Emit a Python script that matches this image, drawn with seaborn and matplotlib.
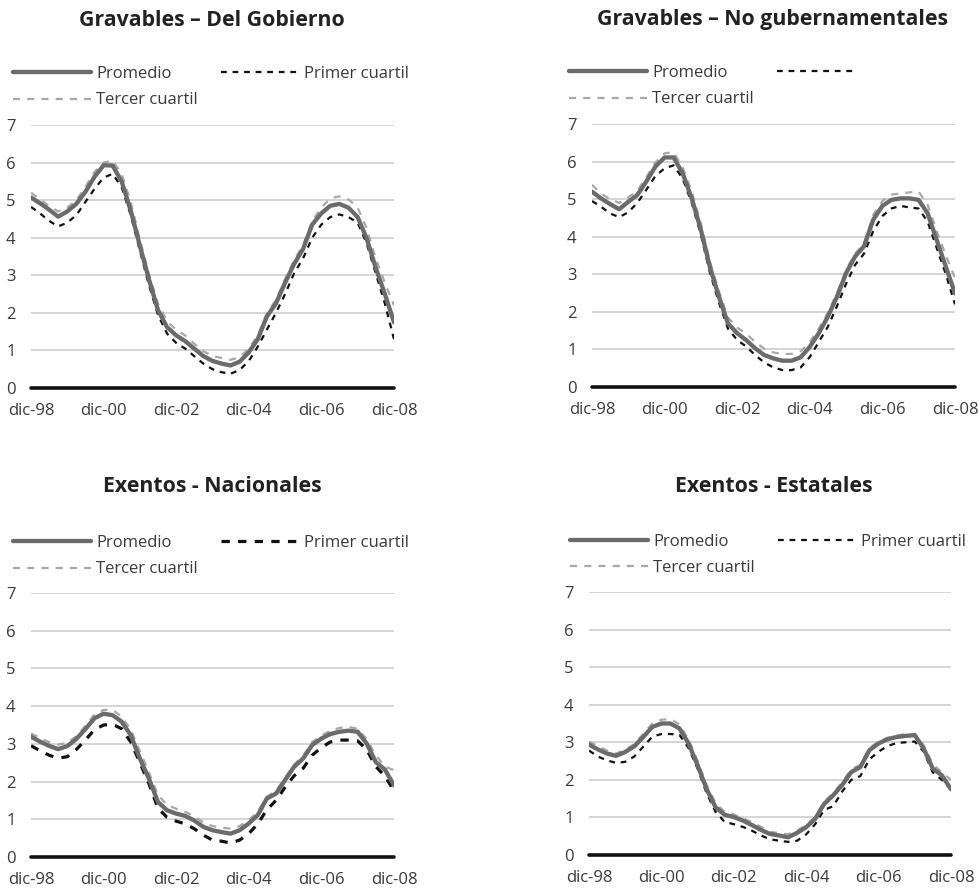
import numpy as np
import pandas as pd
import matplotlib
matplotlib.use("Agg")
import matplotlib.pyplot as plt
import seaborn as sns

sns.set_style("white")
plt.rcParams['font.family'] = ['Open Sans', 'DejaVu Sans']

# ---------------- data (quarterly, dic-98 .. dic-08) ----------------
dates = pd.date_range('1998-12-31', periods=41, freq='QE-DEC')
tick_dates = pd.to_datetime(['1998-12-31', '2000-12-31', '2002-12-31',
                             '2004-12-31', '2006-12-31', '2008-12-31'])
tick_labels = ['dic-98', 'dic-00', 'dic-02', 'dic-04', 'dic-06', 'dic-08']

titles = ['Gravables – Del Gobierno', 'Gravables – No gubernamentales',
          'Exentos - Nacionales', 'Exentos - Estatales']

gob_mean = [5.07, 4.92, 4.75, 4.56, 4.70, 4.90, 5.22, 5.62, 5.93, 5.92, 5.50,
            4.72, 3.78, 2.90, 2.08, 1.62, 1.40, 1.25, 1.05, 0.85, 0.72, 0.65,
            0.60, 0.70, 0.95, 1.30, 1.90, 2.25, 2.80, 3.30, 3.70, 4.35, 4.65,
            4.85, 4.90, 4.80, 4.55, 3.98, 3.20, 2.50, 1.75]
gob_q1 = [4.82, 4.65, 4.45, 4.30, 4.40, 4.60, 4.95, 5.30, 5.60, 5.70, 5.35,
          4.60, 3.65, 2.75, 1.95, 1.45, 1.20, 1.05, 0.85, 0.65, 0.50, 0.42,
          0.38, 0.48, 0.72, 1.10, 1.55, 2.00, 2.50, 3.05, 3.45, 4.00, 4.35,
          4.55, 4.62, 4.55, 4.40, 3.85, 3.05, 2.25, 1.30]
gob_q3 = [5.20, 5.02, 4.85, 4.70, 4.80, 5.00, 5.35, 5.75, 6.00, 6.05, 5.70,
          4.95, 3.95, 3.05, 2.25, 1.78, 1.55, 1.40, 1.18, 0.98, 0.85, 0.80,
          0.75, 0.82, 1.05, 1.40, 1.98, 2.35, 2.90, 3.40, 3.80, 4.45, 4.80,
          5.05, 5.10, 5.02, 4.80, 4.25, 3.45, 2.80, 2.20]

nog_mean = [5.20, 5.02, 4.87, 4.73, 4.93, 5.11, 5.47, 5.87, 6.11, 6.11, 5.69,
            5.02, 4.18, 3.20, 2.40, 1.69, 1.43, 1.25, 1.03, 0.85, 0.76, 0.70,
            0.70, 0.79, 1.07, 1.43, 1.87, 2.40, 3.03, 3.47, 3.75, 4.45, 4.82,
            4.98, 5.02, 5.02, 4.98, 4.62, 3.91, 3.20, 2.49]
nog_q1 = [4.95, 4.80, 4.62, 4.52, 4.65, 4.90, 5.25, 5.62, 5.82, 5.90, 5.55,
          4.90, 4.05, 3.05, 2.25, 1.55, 1.25, 1.08, 0.85, 0.65, 0.52, 0.45,
          0.45, 0.52, 0.80, 1.20, 1.60, 2.15, 2.75, 3.25, 3.55, 4.15, 4.55,
          4.75, 4.82, 4.78, 4.75, 4.40, 3.70, 3.00, 2.20]
nog_q3 = [5.38, 5.15, 5.00, 4.90, 5.05, 5.22, 5.58, 5.98, 6.22, 6.25, 5.85,
          5.20, 4.35, 3.35, 2.55, 1.85, 1.58, 1.42, 1.20, 1.02, 0.92, 0.88,
          0.88, 0.95, 1.20, 1.55, 1.98, 2.50, 3.12, 3.55, 3.80, 4.58, 4.95,
          5.12, 5.15, 5.18, 5.20, 4.85, 4.15, 3.50, 2.90]

nac_mean = [3.19, 3.06, 2.95, 2.86, 2.94, 3.13, 3.39, 3.68, 3.80, 3.76, 3.59,
            3.23, 2.61, 2.08, 1.46, 1.24, 1.15, 1.09, 0.97, 0.80, 0.71, 0.66,
            0.62, 0.71, 0.89, 1.11, 1.55, 1.68, 2.04, 2.39, 2.61, 2.97, 3.14,
            3.26, 3.32, 3.35, 3.32, 3.01, 2.52, 2.32, 1.90]
nac_q1 = [2.95, 2.82, 2.70, 2.62, 2.66, 2.85, 3.10, 3.38, 3.50, 3.52, 3.40,
          3.05, 2.50, 1.95, 1.30, 1.05, 0.95, 0.88, 0.75, 0.58, 0.45, 0.42,
          0.37, 0.45, 0.62, 0.88, 1.25, 1.50, 1.85, 2.15, 2.35, 2.70, 2.90,
          3.05, 3.10, 3.10, 3.08, 2.85, 2.40, 2.15, 1.75]
nac_q3 = [3.28, 3.15, 3.05, 2.98, 3.03, 3.20, 3.48, 3.78, 3.90, 3.90, 3.72,
          3.38, 2.80, 2.25, 1.65, 1.38, 1.28, 1.20, 1.08, 0.92, 0.82, 0.78,
          0.75, 0.82, 0.98, 1.20, 1.60, 1.75, 2.10, 2.45, 2.68, 3.05, 3.22,
          3.35, 3.42, 3.45, 3.40, 3.12, 2.70, 2.40, 2.30]

est_mean = [2.94, 2.81, 2.70, 2.64, 2.74, 2.89, 3.14, 3.41, 3.50, 3.50, 3.37,
            2.97, 2.39, 1.76, 1.27, 1.07, 1.01, 0.92, 0.80, 0.67, 0.56, 0.52,
            0.47, 0.59, 0.74, 0.96, 1.36, 1.59, 1.87, 2.21, 2.34, 2.79, 2.97,
            3.08, 3.14, 3.17, 3.19, 2.83, 2.30, 2.12, 1.75]
est_q1 = [2.78, 2.62, 2.52, 2.45, 2.48, 2.62, 2.88, 3.15, 3.22, 3.22, 3.20,
          2.85, 2.30, 1.65, 1.15, 0.88, 0.82, 0.75, 0.65, 0.52, 0.42, 0.38,
          0.35, 0.38, 0.55, 0.82, 1.20, 1.30, 1.70, 2.00, 2.10, 2.55, 2.75,
          2.90, 2.98, 3.00, 3.02, 2.75, 2.20, 2.00, 1.75]
est_q3 = [3.02, 2.90, 2.78, 2.70, 2.80, 2.95, 3.22, 3.50, 3.60, 3.62, 3.48,
          3.08, 2.50, 1.88, 1.38, 1.15, 1.08, 0.98, 0.88, 0.75, 0.62, 0.58,
          0.55, 0.65, 0.80, 1.02, 1.42, 1.65, 1.95, 2.28, 2.40, 2.85, 3.02,
          3.12, 3.18, 3.22, 3.22, 2.92, 2.42, 2.20, 2.00]

series_names = ['Promedio', 'Primer cuartil', 'Tercer cuartil']
panels_data = [(gob_mean, gob_q1, gob_q3), (nog_mean, nog_q1, nog_q3),
               (nac_mean, nac_q1, nac_q3), (est_mean, est_q1, est_q3)]

# ---------------- layout (pixels) ----------------
W, H = 979, 894
fig = plt.figure(figsize=(W / 100, H / 100), dpi=100)

# (left, right, top, bottom) of plotting area in px
axes_px = [(31, 394, 125, 388), (592, 955, 124, 387),
           (31, 394, 593, 857), (589, 951, 592, 855)]
title_px = [(212, 20), (773, 20), (212, 487), (774, 487)]
legend_px = [(13, 66), (569, 65), (13, 535), (570, 534)]
q1_labels = ['Primer cuartil', '', 'Primer cuartil', 'Primer cuartil']
q1_widths = [1.6, 1.6, 2.3, 1.6]

text_color = '#3a3a3a'

for i, ((l, r, t, b), data) in enumerate(zip(axes_px, panels_data)):
    ax = fig.add_axes([l / W, 1 - b / H, (r - l) / W, (b - t) / H])
    mean, q1, q3 = data
    df = pd.DataFrame({'fecha': dates, 'Promedio': mean,
                       'Primer cuartil': q1, 'Tercer cuartil': q3})

    sns.lineplot(data=df, x='fecha', y='Tercer cuartil', ax=ax,
                 color='#a8a8a8', lw=1.6, zorder=3)
    sns.lineplot(data=df, x='fecha', y='Primer cuartil', ax=ax,
                 color='#111111', lw=q1_widths[i], zorder=4)
    sns.lineplot(data=df, x='fecha', y='Promedio', ax=ax,
                 color='#6b6b6b', lw=3.1, zorder=5)
    lines = ax.get_lines()
    lines[0].set_linestyle((0, (3.2, 3.2)))
    lines[1].set_linestyle((0, (2.6, 2.6)))
    lines[2].set_solid_capstyle('round')
    h_mean, h_q1, h_q3 = lines[2], lines[1], lines[0]

    ax.set_ylim(0, 7)
    ax.set_xlim(dates[0], dates[-1])
    ax.set_yticks(range(0, 8))
    ax.set_xticks(tick_dates)
    ax.set_xticklabels(tick_labels)
    ax.set_xlabel('')
    ax.set_ylabel('')
    ax.yaxis.grid(True, color='#d2d2d2', lw=1.3)
    ax.xaxis.grid(False)
    ax.set_axisbelow(True)
    ax.axhline(0, color='#111111', lw=2.6, zorder=6, clip_on=False)
    for s in ax.spines.values():
        s.set_visible(False)
    ax.tick_params(axis='both', length=0, labelsize=12, colors=text_color)
    ax.tick_params(axis='y', pad=11)
    ax.tick_params(axis='x', pad=11)

    lx, ly = legend_px[i]
    leg = ax.legend([h_mean, h_q3, h_q1],
                    ['Promedio', 'Tercer cuartil', q1_labels[i]],
                    ncol=2, loc='upper left',
                    bbox_to_anchor=(lx / W, 1 - ly / H),
                    bbox_transform=fig.transFigure, frameon=False,
                    fontsize=12, handlelength=4.7, handletextpad=0.3,
                    columnspacing=1.35, labelspacing=0.62, borderpad=0,
                    borderaxespad=0, labelcolor=text_color)

    tx, ty = title_px[i]
    fig.text(tx / W, 1 - ty / H, titles[i], ha='center', va='center',
             fontsize=15.3, fontweight='bold', color='#222222')

fig.savefig('out.png', dpi=100)
